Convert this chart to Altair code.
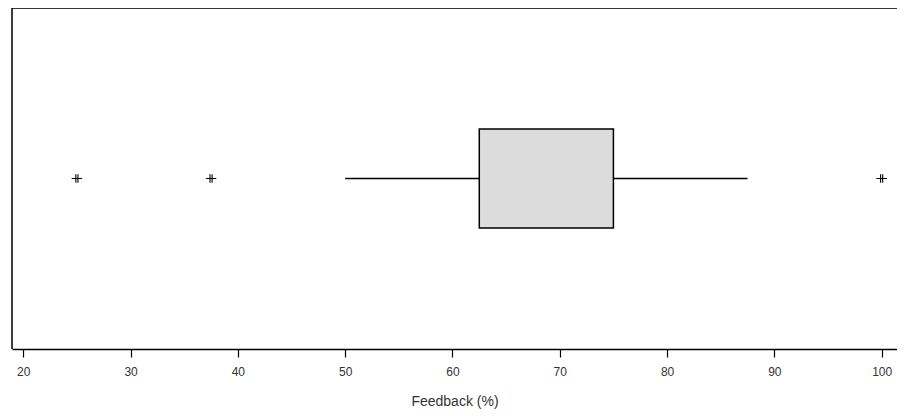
import altair as alt
import pandas as pd

# Box-plot summary (Feedback, %)
stat_names = ["lower whisker", "Q1", "Q3", "upper whisker"]
stat_values = [50, 62.5, 75, 87.5]
outliers = [25, 37.5, 100]
tick_values = [20, 30, 40, 50, 60, 70, 80, 90, 100]

s = dict(zip(stat_names, stat_values))
box_df = pd.DataFrame([{"lo": s["lower whisker"], "q1": s["Q1"], "q3": s["Q3"], "hi": s["upper whisker"]}])
out_df = pd.DataFrame({"value": outliers, "pos": [0.5] * len(outliers)})

W, H = 885, 341
xscale = alt.Scale(domain=[18.95, 101.43], nice=False, zero=False)
yscale = alt.Scale(domain=[0, 1], nice=False, zero=False)

xaxis = alt.Axis(
    values=tick_values, title="Feedback (%)", grid=False,
    tickSize=8, tickColor="black", tickWidth=1.2,
    domainColor="black", domainWidth=1.5,
    labelFont="Liberation Sans", labelFontSize=12, labelColor="#333333", labelPadding=9,
    titleFont="Liberation Sans", titleFontSize=14, titleFontWeight="normal",
    titleColor="#333333", titlePadding=17,
)

base = alt.Chart(box_df)

whisker = base.mark_rule(color="black", strokeWidth=1.3).encode(
    x=alt.X("lo:Q", scale=xscale, axis=xaxis),
    x2="hi:Q",
    y=alt.value(H * 0.5),
)

box = base.mark_bar(color="#dcdcdc", stroke="black", strokeWidth=1.5).encode(
    x=alt.X("q1:Q", scale=xscale),
    x2="q3:Q",
    y=alt.value(121),
    y2=alt.value(220),
)

asterisk = "M-1,0L1,0M-0.2,-0.8L-0.2,0.8M0.2,-0.8L0.2,0.8"
points = alt.Chart(out_df).mark_point(
    shape=asterisk, size=110, stroke="black", strokeWidth=1.1, filled=False, opacity=1
).encode(
    x=alt.X("value:Q", scale=xscale),
    y=alt.Y("pos:Q", scale=yscale, axis=None),
)

left_line = base.mark_rule(color="black", strokeWidth=1.5).encode(
    x=alt.value(0), y=alt.value(0), y2=alt.value(H)
)
top_line = base.mark_rule(color="black", strokeWidth=1.5).encode(
    x=alt.value(0), x2=alt.value(W), y=alt.value(0)
)

chart = alt.layer(whisker, box, points, left_line, top_line).properties(
    width=W, height=H,
    autosize=alt.AutoSizeParams(type="none"),
    padding={"left": 4, "top": 0, "right": 0, "bottom": 66},
).configure_view(stroke=None).configure(background="white")

chart.save("out.html", embed_options={"renderer": "svg", "actions": False})
